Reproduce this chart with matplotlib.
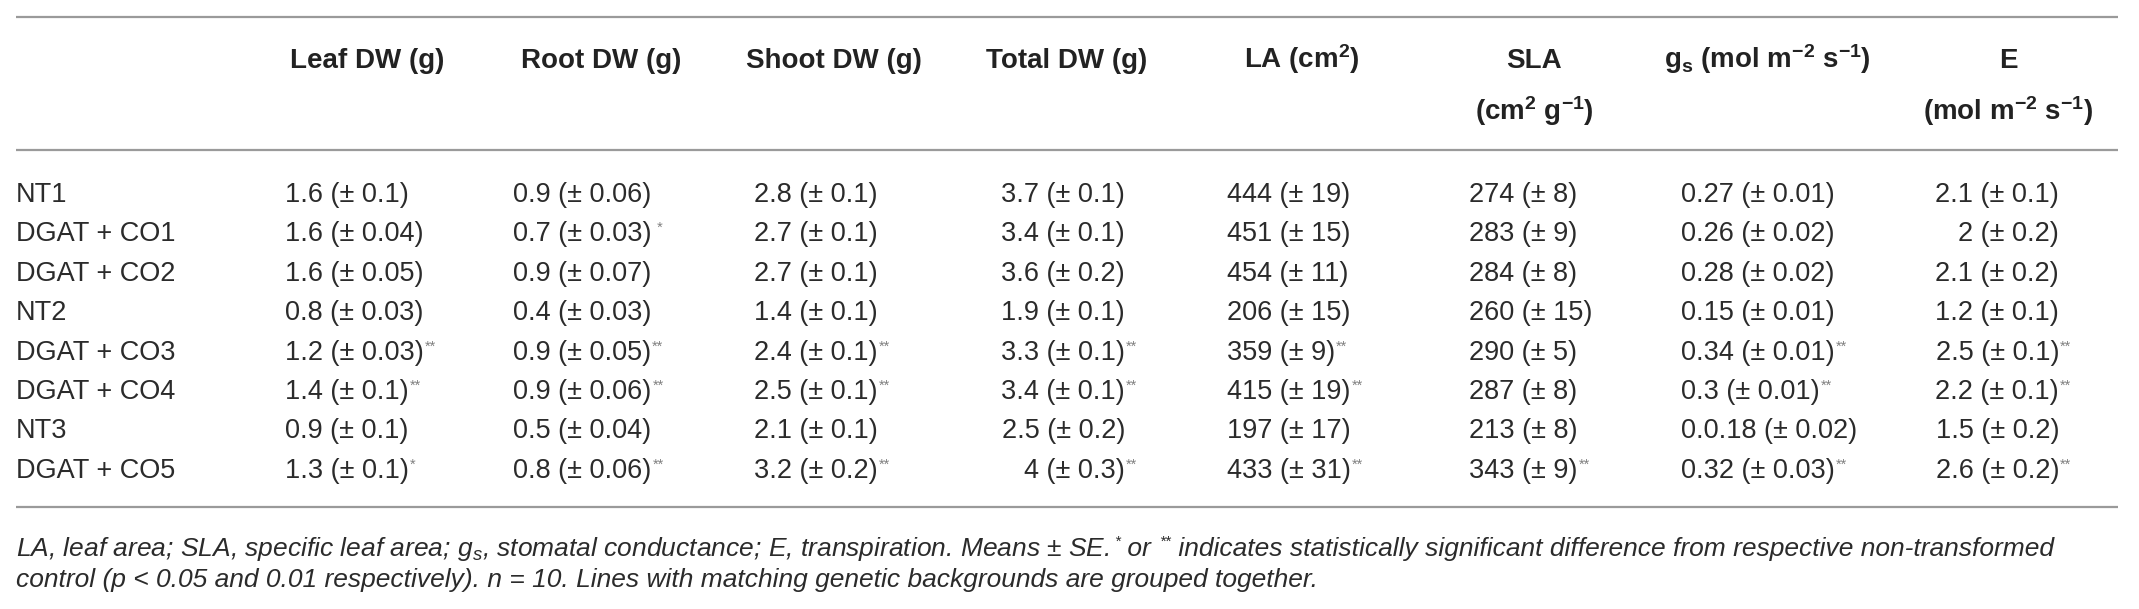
import matplotlib
matplotlib.use("Agg")
import matplotlib.pyplot as plt

plt.rcParams['font.family'] = ['Liberation Sans', 'DejaVu Sans']
plt.rcParams['mathtext.default'] = 'regular'

# ---- data (as printed in the table) ----
lines = ["NT1", "DGAT + CO1", "DGAT + CO2", "NT2",
         "DGAT + CO3", "DGAT + CO4", "NT3", "DGAT + CO5"]

leaf_mean = ["1.6", "1.6", "1.6", "0.8", "1.2", "1.4", "0.9", "1.3"]
leaf_se = ["0.1", "0.04", "0.05", "0.03", "0.03", "0.1", "0.1", "0.1"]
leaf_sig = ["", "", "", "", "**", "**", "", "*"]

root_mean = ["0.9", "0.7", "0.9", "0.4", "0.9", "0.9", "0.5", "0.8"]
root_se = ["0.06", "0.03", "0.07", "0.03", "0.05", "0.06", "0.04", "0.06"]
root_sig = ["", " *", "", "", "**", "**", "", "**"]

shoot_mean = ["2.8", "2.7", "2.7", "1.4", "2.4", "2.5", "2.1", "3.2"]
shoot_se = ["0.1", "0.1", "0.1", "0.1", "0.1", "0.1", "0.1", "0.2"]
shoot_sig = ["", "", "", "", "**", "**", "", "**"]

total_mean = ["3.7", "3.4", "3.6", "1.9", "3.3", "3.4", "2.5", "4"]
total_se = ["0.1", "0.1", "0.2", "0.1", "0.1", "0.1", "0.2", "0.3"]
total_sig = ["", "", "", "", "**", "**", "", "**"]

la_mean = ["444", "451", "454", "206", "359", "415", "197", "433"]
la_se = ["19", "15", "11", "15", "9", "19", "17", "31"]
la_sig = ["", "", "", "", "**", "**", "", "**"]

sla_mean = ["274", "283", "284", "260", "290", "287", "213", "343"]
sla_se = ["8", "9", "8", "15", "5", "8", "8", "9"]
sla_sig = ["", "", "", "", "", "", "", "**"]

gs_mean = ["0.27", "0.26", "0.28", "0.15", "0.34", "0.3", "0.0.18", "0.32"]
gs_se = ["0.01", "0.02", "0.02", "0.01", "0.01", "0.01", "0.02", "0.03"]
gs_sig = ["", "", "", "", "**", "**", "", "**"]

e_mean = ["2.1", "2", "2.1", "1.2", "2.5", "2.2", "1.5", "2.6"]
e_se = ["0.1", "0.2", "0.2", "0.1", "0.1", "0.1", "0.2", "0.2"]
e_sig = ["", "", "", "", "**", "**", "", "**"]

headers = [
    ("Leaf DW (g)", ""),
    ("Root DW (g)", ""),
    ("Shoot DW (g)", ""),
    ("Total DW (g)", ""),
    ("LA (cm$^{2}$)", ""),
    ("SLA", "(cm$^{2}$ g$^{-1}$)"),
    ("g$_{s}$ (mol m$^{-2}$ s$^{-1}$)", ""),
    ("E", "(mol m$^{-2}$ s$^{-1}$)"),
]
columns = [
    (leaf_mean, leaf_se, leaf_sig),
    (root_mean, root_se, root_sig),
    (shoot_mean, shoot_se, shoot_sig),
    (total_mean, total_se, total_sig),
    (la_mean, la_se, la_sig),
    (sla_mean, sla_se, sla_sig),
    (gs_mean, gs_se, gs_sig),
    (e_mean, e_se, e_sig),
]

# footnote pieces: (text, is_superscript)
note1 = [
    ("LA, leaf area; SLA, specific leaf area; g$_{s}$, stomatal conductance; "
     "E, transpiration. Means ± SE. ", False),
    ("*", True),
    (" or ", False),
    ("**", True),
    (" indicates statistically significant difference from respective non-transformed", False),
]
note2 = ("control (p < 0.05 and 0.01 respectively). n = 10. "
         "Lines with matching genetic backgrounds are grouped together.")

# ---- layout (pixels) ----
W, H = 2139, 609
head_cx = [367, 601, 834, 1067, 1302, 1534, 1767, 2008]
data_x = [285, 513, 754, 1125, 1227, 1469, 1681, 2059]
data_ha = ["left", "left", "left", "right", "left", "left", "left", "right"]
row_base0, row_step = 202, 39.4
txt = "#2b2b2b"
rule_c = "#9a9a9a"

fig = plt.figure(figsize=(W / 100, H / 100), dpi=100)
ax = fig.add_axes([0, 0, 1, 1])
ax.set_xlim(0, W)
ax.set_ylim(H, 0)
ax.axis('off')

for y in (17, 150, 507):
    ax.plot([16, 2118], [y, y], color=rule_c, lw=1.6, solid_capstyle='butt')

for j, (h1, h2) in enumerate(headers):
    ax.text(head_cx[j], 68, h1, ha='center', va='baseline', fontsize=20,
            fontweight='bold', color='#222222')
    if h2:
        ax.text(head_cx[j], 120, h2, ha='center', va='baseline', fontsize=20,
                fontweight='bold', color='#222222')

for i, name in enumerate(lines):
    y = row_base0 + i * row_step
    ax.text(16, y, name, ha='left', va='baseline', fontsize=19.5, color=txt)
    for j, (mean, se, sig) in enumerate(columns):
        t = ax.text(data_x[j], y, f"{mean[i]} (± {se[i]})", ha=data_ha[j],
                    va='baseline', fontsize=19.5, color=txt)
        if sig[i]:
            ax.annotate(sig[i], xy=(1, 0.74), xycoords=t, xytext=(0.8, 0),
                        textcoords='offset points', ha='left', va='center',
                        fontsize=10.5, color='#808080')

# footnote, line 1 built piece by piece so superscripts sit inline
fig.canvas.draw()
renderer = fig.canvas.get_renderer()
inv = ax.transData.inverted()
x = 16
for piece, sup in note1:
    if sup:
        t = ax.text(x + 1, 546, piece, ha='left', va='baseline', fontsize=11,
                    style='italic', color=txt)
    else:
        t = ax.text(x, 556, piece, ha='left', va='baseline', fontsize=19,
                    style='italic', color=txt)
    bb = t.get_window_extent(renderer)
    x = inv.transform((bb.x1, bb.y0))[0]
ax.text(16, 587, note2, ha='left', va='baseline', fontsize=19,
        style='italic', color=txt)

fig.savefig("out.png", dpi=100)
